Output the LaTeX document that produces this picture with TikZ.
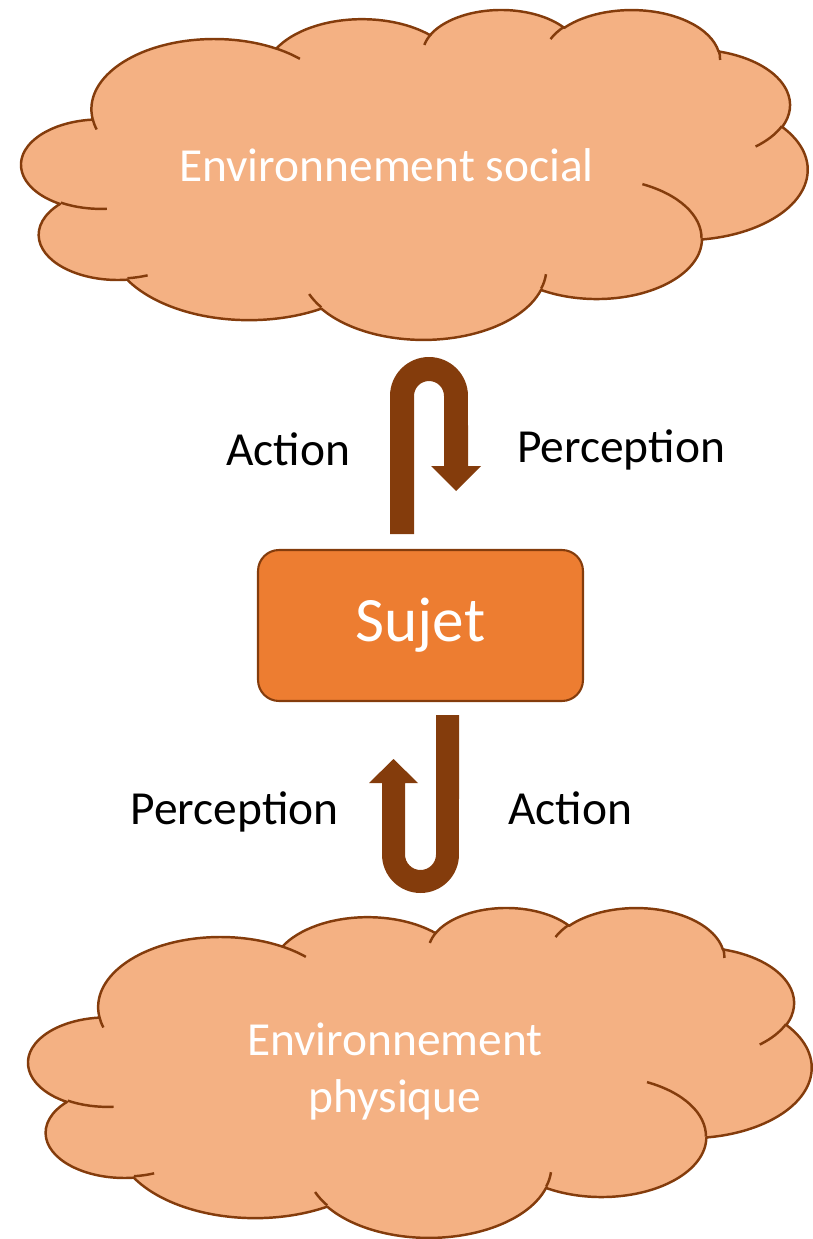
\documentclass[tikz,border=0pt]{standalone}
\usepackage{fontspec}
\setmainfont{Carlito}
\definecolor{cloudfill}{HTML}{F4B183}
\definecolor{brownline}{HTML}{843C0C}
\definecolor{sujetfill}{HTML}{ED7D31}
% one arc of the Office cloud shape: x radius, y radius, start (visual) angle, sweep
\newcommand\cloudarc[4]{%
  \pgfextra{%
    \pgfmathparse{atan2((#1)*sin(#3),(#2)*cos(#3))}\let\cA\pgfmathresult
    \pgfmathparse{atan2((#1)*sin((#3)+(#4)),(#2)*cos((#3)+(#4)))}\let\cB\pgfmathresult
    \pgfmathparse{(#3)+mod(\cA-(#3)+900,360)-180}\xdef\cS{\pgfmathresult}%
    \pgfmathparse{(#3)+(#4)+mod(\cB-((#3)+(#4))+900,360)-180}\xdef\cE{\pgfmathresult}%
  }%
  arc[start angle=\cS, end angle=\cE, x radius=#1, y radius=#2]}
\newcommand\cloudouter{(3.9,14.37)
  \cloudarc{6.753}{9.19}{-190.4875}{123.7805}
  \cloudarc{5.333}{7.267}{-144.1024}{89.9452}
  \cloudarc{4.365}{5.945}{-145.8079}{99.7230}
  \cloudarc{4.857}{6.595}{-130.9861}{117.2417}
  \cloudarc{5.333}{7.273}{-78.7089}{109.0269}
  \cloudarc{6.775}{9.22}{-46.2673}{130.2690}
  \cloudarc{5.785}{7.867}{0.6250}{114.0333}
  \cloudarc{6.752}{9.215}{22.4516}{115.1726}
  \cloudarc{7.72}{10.543}{66.2426}{75.7110}
  \cloudarc{4.36}{5.918}{-274.9421}{146.7356}
  \cloudarc{4.345}{5.945}{-246.8285}{152.5189}
  -- cycle}
\newcommand\cloudinner{
  (4.693,26.177) \cloudarc{4.345}{5.945}{86.7420}{26.4295}
  (6.928,34.899) \cloudarc{4.36}{5.918}{73.6105}{11.4475}
  (16.478,39.09) \cloudarc{6.752}{9.215}{137.6242}{14.0811}
  (28.827,34.751) \cloudarc{6.752}{9.215}{6.4533}{15.9984}
  (34.129,22.954) \cloudarc{5.785}{7.867}{-70.2924}{70.9174}
  (41.798,15.354) \cloudarc{5.333}{7.273}{30.3180}{27.7515}
  (38.324,5.426) \cloudarc{4.857}{6.595}{-13.7443}{14.8502}
  (29.078,3.952) \cloudarc{4.857}{6.595}{-149.1815}{18.1940}
  (22.141,4.72) \cloudarc{4.365}{5.945}{-163.4943}{17.6968}
  (14,5.192) \cloudarc{6.753}{9.19}{-66.7070}{12.3194}
  (4.127,15.789) \cloudarc{6.753}{9.19}{157.6544}{11.8582}
}
\tikzset{
  cloudline/.style={draw=brownline, line width=1.4pt, line join=round},
  cloudtext/.style={text=white, font=\fontsize{27}{32}\selectfont, anchor=base, inner sep=0pt},
  label/.style={text=black, font=\fontsize{27}{32}\selectfont, anchor=base, inner sep=0pt},
  uturn/.style={fill=brownline, draw=none},
  sujetbox/.style={draw=brownline, fill=sujetfill, line width=1.2pt, rounded corners=0.42cm,
    minimum width=6.5cm, minimum height=3.02cm, text=white, font=\fontsize{36}{43}\selectfont}
}
\begin{document}
\begin{tikzpicture}[x=0.02cm, y=0.02cm, yscale=-1]
\useasboundingbox (0,0) rectangle (813,1239);
% top cloud
\begin{scope}[shift={(21.6,8.92)}, x=1cm, y=1cm, xscale=0.36386, yscale=0.152708]
  \fill[cloudfill] \cloudouter;
  \draw[cloudline] \cloudouter;
  \draw[cloudline] \cloudinner;
\end{scope}
% bottom cloud
\begin{scope}[shift={(28.6,906.9)}, x=1cm, y=1cm, xscale=0.36248, yscale=0.152708]
  \fill[cloudfill] \cloudouter;
  \draw[cloudline] \cloudouter;
  \draw[cloudline] \cloudinner;
\end{scope}
\node[cloudtext] (social) at (386.5,182) {Environnement social};
\node[cloudtext] (phys1) at (395,1055) {Environnement};
\node[cloudtext] (phys2) at (395,1112) {physique};
% subject
\node[sujetbox] (sujet) at (420.5,625.5) {\raisebox{-0.14cm}{Sujet}};
% top U-turn arrow
\coordinate (ua) at (390,534);
\fill[uturn] (ua) -- (390,396) arc[start angle=180, end angle=360, radius=0.78cm]
  -- (468,466) -- (481,466) -- (456,491) -- (431,466) -- (444,466) -- (444,396)
  arc[start angle=0, end angle=-180, radius=0.3cm] -- (414,534) -- cycle;
% bottom U-turn arrow
\coordinate (ub) at (436,715);
\fill[uturn] (ub) -- (436,854.5) arc[start angle=0, end angle=180, radius=0.31cm]
  -- (405,783) -- (418,783) -- (393.5,759) -- (369,783) -- (382,783) -- (382,854.5)
  arc[start angle=180, end angle=0, radius=0.77cm] -- (459,715) -- cycle;
% labels
\node[label] (act1) at (288,465) {Action};
\node[label] (per1) at (621,462) {Perception};
\node[label] (per2) at (234.5,824) {Perception};
\node[label] (act2) at (570,824) {Action};
\end{tikzpicture}
\end{document}
